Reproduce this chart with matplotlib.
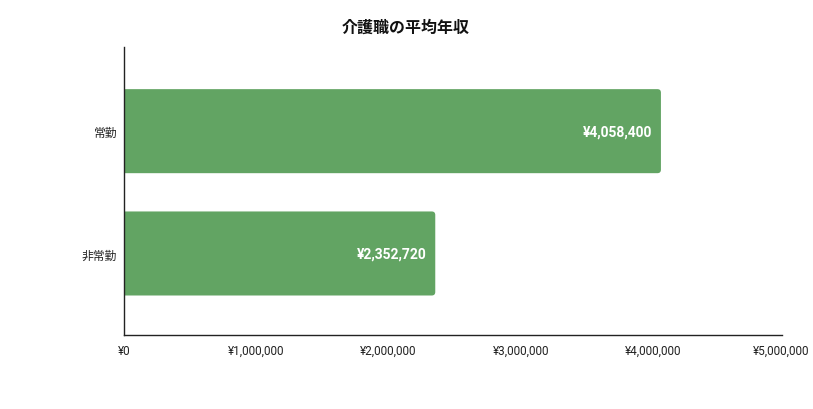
import matplotlib
matplotlib.use("Agg")
import matplotlib.pyplot as plt
from matplotlib.patches import PathPatch
from matplotlib.path import Path
from matplotlib.ticker import FuncFormatter
from matplotlib.transforms import ScaledTranslation

plt.rcParams['font.family'] = ['Roboto', 'Noto Sans CJK JP', 'DejaVu Sans']

categories = ["常勤", "非常勤"]
values = [4058400, 2352720]
xticks = [0, 1000000, 2000000, 3000000, 4000000, 5000000]
title = "介護職の平均年収"
color = "#62a463"

W, H = 813, 410
fig = plt.figure(figsize=(W / 100, H / 100), dpi=100)
ax_l, ax_r, ax_t, ax_b = 124, 785.5, 48, 335.7
ax = fig.add_axes([ax_l / W, (H - ax_b) / H, (ax_r - ax_l) / W, (ax_b - ax_t) / H])

xmin, xmax = 0, 5000000
ymin, ymax = -0.688, 1.664
ax.set_xlim(xmin, xmax)
ax.set_ylim(ymax, ymin)

bar_h = 0.687
bars = ax.barh(range(len(categories)), values, height=bar_h, color=color)

px_x = (ax_r - ax_l) / (xmax - xmin)
px_y = (ax_b - ax_t) / (ymax - ymin)
r_px = 3.5
rx = r_px / px_x
ry = r_px / px_y

for b in bars:
    b.set_visible(False)
    x0, y0, w, h = b.get_x(), b.get_y(), b.get_width(), b.get_height()
    x1, y1 = x0 + w, y0 + h
    verts = [(x0, y0), (x1 - rx, y0), (x1, y0), (x1, y0 + ry),
             (x1, y1 - ry), (x1, y1), (x1 - rx, y1), (x0, y1), (x0, y0)]
    codes = [Path.MOVETO, Path.LINETO, Path.CURVE3, Path.CURVE3,
             Path.LINETO, Path.CURVE3, Path.CURVE3, Path.LINETO, Path.CLOSEPOLY]
    ax.add_patch(PathPatch(Path(verts, codes), facecolor=color, edgecolor='none', zorder=2))

for i, v in enumerate(values):
    ax.annotate(f"¥{v:,}", xy=(v, i), xytext=(-6, 0), textcoords='offset points',
                ha='right', va='center', color='white', fontsize=10, fontweight='bold', zorder=3)

ax.set_yticks(range(len(categories)))
ax.set_yticklabels(categories, fontsize=8.5, color='#222222')
ax.set_xticks(xticks)
ax.xaxis.set_major_formatter(FuncFormatter(lambda v, p: f"¥{int(v):,}"))
ax.tick_params(axis='x', length=0, pad=6.5, labelsize=8.5, colors='#222222')
ax.tick_params(axis='y', length=0, pad=5)

last = ax.get_xticklabels()[-1]
last.set_transform(last.get_transform() + ScaledTranslation(-4 / 100, 0, fig.dpi_scale_trans))

for s in ['top', 'right']:
    ax.spines[s].set_visible(False)
ax.spines['left'].set_color('#222222')
ax.spines['bottom'].set_color('#222222')
ax.spines['left'].set_linewidth(1)
ax.spines['bottom'].set_linewidth(1)
ax.spines['bottom'].set_bounds(0, (782 - ax_l) / px_x)

fig.text(406 / W, 1 - 28.5 / H, title, ha='center', va='center', fontsize=11.5, fontweight='bold',
         color='#111111')

fig.savefig("out.png", dpi=100, facecolor='white')
